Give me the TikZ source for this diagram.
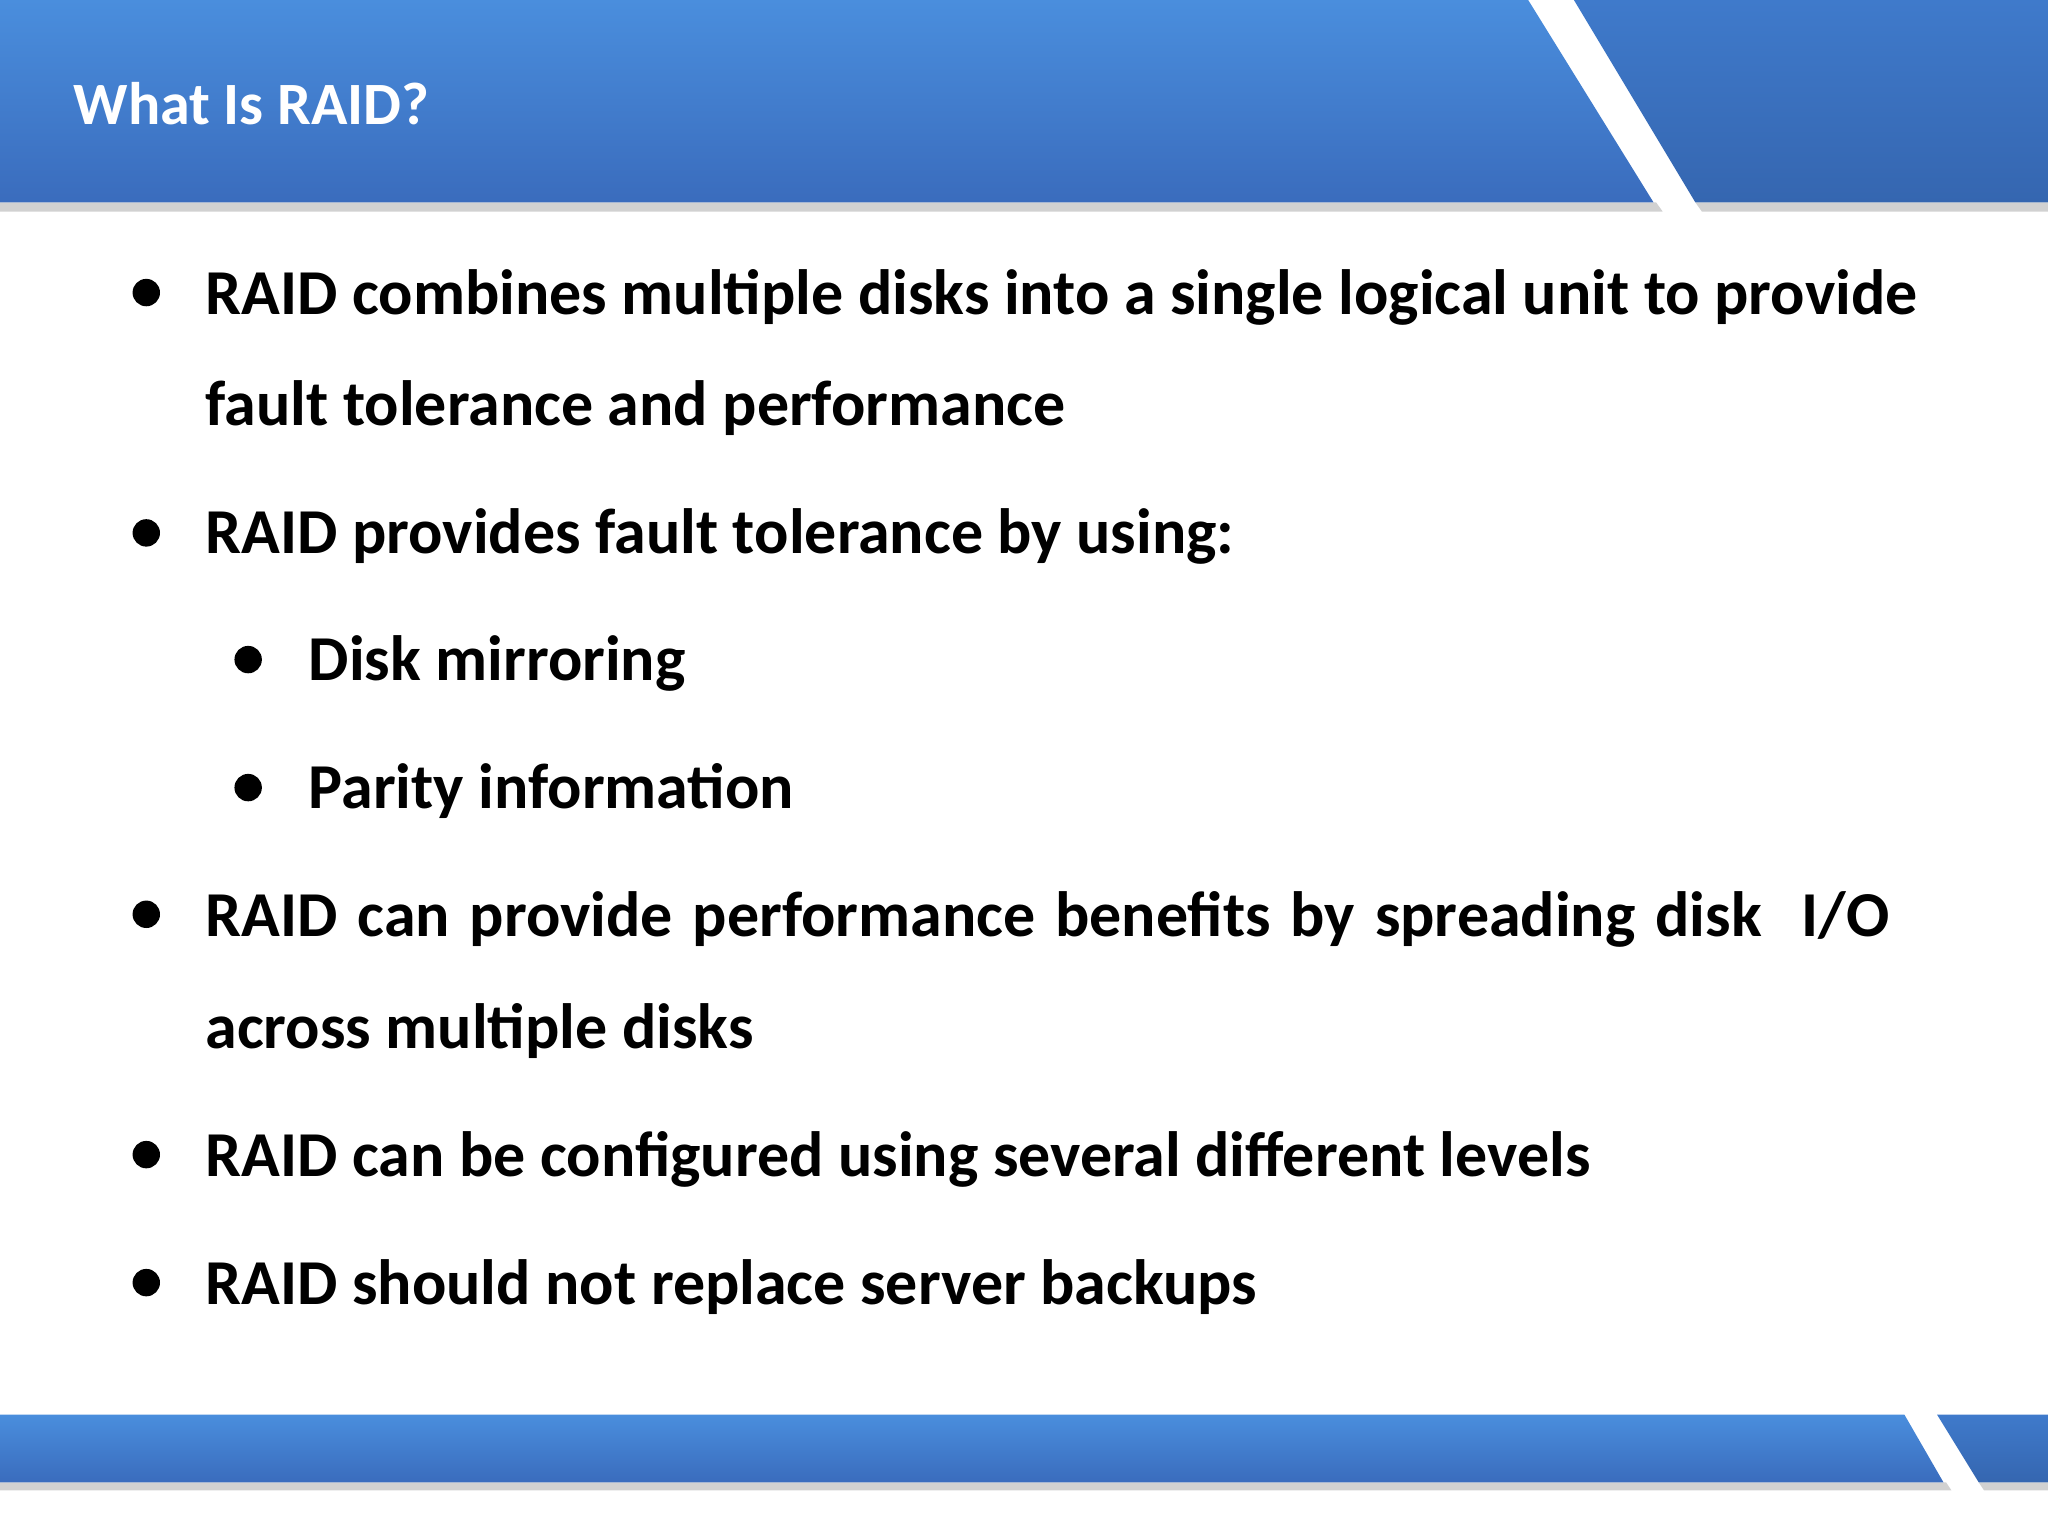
\documentclass[tikz,border=0pt]{standalone}
\usepackage{fontspec}
\setmainfont{Carlito}
\definecolor{btop}{HTML}{4A8EDD}
\definecolor{bbot}{HTML}{3A6CBD}
\definecolor{dtop}{HTML}{3F7ACB}
\definecolor{dbot}{HTML}{3566B0}
\begin{document}
\begin{tikzpicture}[x=0.5pt,y=-0.5pt,
  body/.style={anchor=base west,inner sep=0,font=\bfseries\fontsize{24.5}{28}\selectfont,text=black},
  dot/.style={circle,fill=black,inner sep=0,minimum size=10.5pt}]
\useasboundingbox (0,0) rectangle (1568,1176);
% header
\fill[black!18] (0,155) -- (1268,155) -- (1273,162) -- (0,162) -- cycle;
\fill[black!18] (1298,155) -- (1568,155) -- (1568,162) -- (1303,162) -- cycle;
\shade[top color=btop,bottom color=bbot] (0,0) -- (1170,0) -- (1266,155) -- (0,155) -- cycle;
\shade[top color=dtop,bottom color=dbot] (1205,0) -- (1568,0) -- (1568,155) -- (1298,155) -- cycle;
\node[anchor=base west,inner sep=0,text=white,font=\bfseries\fontsize{23}{26}\selectfont] (title) at (56,95) {What Is RAID?};
% footer
\fill[black!18] (0,1135) -- (1490,1135) -- (1494,1141) -- (0,1141) -- cycle;
\fill[black!18] (1515,1135) -- (1568,1135) -- (1568,1141) -- (1519,1141) -- cycle;
\shade[top color=btop,bottom color=bbot] (0,1083) -- (1458,1083) -- (1488,1135) -- (0,1135) -- cycle;
\shade[top color=dtop,bottom color=dbot] (1483,1083) -- (1568,1083) -- (1568,1135) -- (1515,1135) -- cycle;
% bullets
\node[dot] (b1) at (112,224) {};
\node[body] (t1) at (157,241) {RAID combines multiple disks into a single logical unit to provide};
\node[body] (t1b) at (157,326) {fault tolerance and performance};
\node[dot] (b2) at (112,408) {};
\node[body] (t2) at (157,424) {RAID provides fault tolerance by using:};
\node[dot] (s1) at (190,505) {};
\node[body] (u1) at (236,521) {Disk mirroring};
\node[dot] (s2) at (190,603) {};
\node[body] (u2) at (236,619) {Parity information};
\node[dot] (b3) at (112,700) {};
\node[body] (t3) at (157,717) {\hbox to 644.5pt{RAID\hfill can\hfill provide\hfill performance\hfill benefits\hfill by\hfill spreading\hfill disk\hfill\hfill I/O}};
\node[body] (t3b) at (157,803) {across multiple disks};
\node[dot] (b4) at (112,884) {};
\node[body] (t4) at (157,901) {RAID can be configured using several different levels};
\node[dot] (b5) at (112,982) {};
\node[body] (t5) at (157,999) {RAID should not replace server backups};
\end{tikzpicture}
\end{document}
